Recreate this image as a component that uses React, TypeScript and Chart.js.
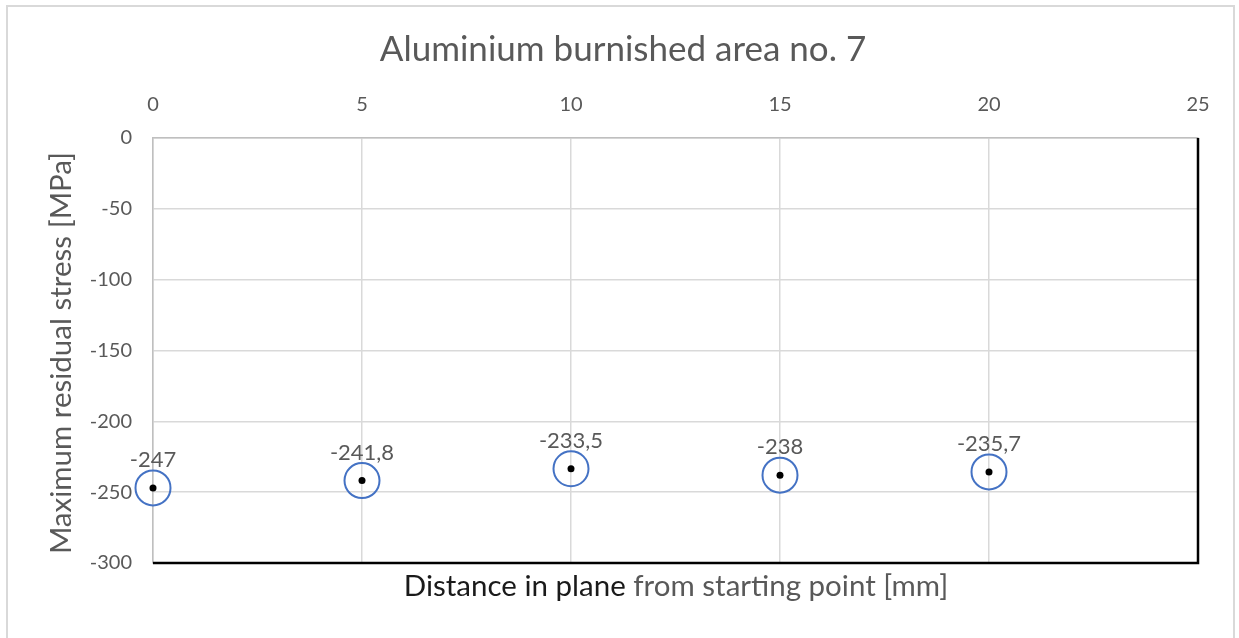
import React, { useEffect, useRef } from "react";
import { Chart, registerables } from "chart.js";

Chart.register(...registerables);

const distances = [0, 5, 10, 15, 20];
const stresses = [-247, -241.8, -233.5, -238, -235.7];
const valueLabels = ["-247", "-241,8", "-233,5", "-238", "-235,7"];
const chartTitle = "Aluminium burnished area no. 7";
const yTitle = "Maximum residual stress [MPa]";
const xTitleDark = "Distance in plane";
const xTitleGray = " from starting point [mm]";

const FONT = "Lato, 'Open Sans', sans-serif";
const GRAY = "#595959";

const decorPlugin = {
  id: "decor",
  afterDraw(chart: any) {
    const { ctx, chartArea } = chart;
    const { left, right, top, bottom } = chartArea;
    ctx.save();
    // black right and bottom borders
    ctx.strokeStyle = "#000";
    ctx.lineWidth = 2.5;
    ctx.beginPath();
    ctx.moveTo(right, top);
    ctx.lineTo(right, bottom);
    ctx.lineTo(left, bottom);
    ctx.stroke();

    // data labels
    const meta = chart.getDatasetMeta(0);
    ctx.fillStyle = GRAY;
    ctx.font = `22px ${FONT}`;
    ctx.textAlign = "center";
    ctx.textBaseline = "middle";
    meta.data.forEach((pt: any, i: number) => {
      ctx.fillText(valueLabels[i], pt.x, pt.y - 28);
    });

    // title
    ctx.font = `35px ${FONT}`;
    ctx.fillStyle = GRAY;
    ctx.fillText(chartTitle, 623, 50);

    // y title
    ctx.save();
    ctx.translate(61, 353);
    ctx.rotate(-Math.PI / 2);
    ctx.font = `29.5px ${FONT}`;
    ctx.fillText(yTitle, 0, 0);
    ctx.restore();

    // x title (two colours)
    ctx.font = `29.5px ${FONT}`;
    const w1 = ctx.measureText(xTitleDark).width;
    const w2 = ctx.measureText(xTitleGray).width;
    const startX = 676 - (w1 + w2) / 2;
    ctx.textAlign = "left";
    ctx.fillStyle = "#1a1a1a";
    ctx.fillText(xTitleDark, startX, 586);
    ctx.fillStyle = GRAY;
    ctx.fillText(xTitleGray, startX + w1, 586);
    ctx.restore();
  },
};

export default function App() {
  const ref = useRef<HTMLCanvasElement>(null);
  useEffect(() => {
    if (!ref.current) return;
    const pts = distances.map((d, i) => ({ x: d, y: stresses[i] }));
    const chart = new Chart(ref.current, {
      type: "scatter",
      data: {
        datasets: [
          {
            data: pts,
            pointRadius: 3.5,
            pointBackgroundColor: "#000",
            pointBorderColor: "#000",
            pointBorderWidth: 0,
            clip: false,
          },
          {
            data: pts,
            pointRadius: 17.5,
            pointBackgroundColor: "rgba(0,0,0,0)",
            pointBorderColor: "#4472C4",
            pointBorderWidth: 2,
            clip: false,
          },
        ],
      },
      options: {
        animation: false,
        responsive: false,
        maintainAspectRatio: false,
        layout: { padding: { left: 0, right: 41, top: 0, bottom: 75 } },
        plugins: {
          legend: { display: false },
          tooltip: { enabled: false },
          title: { display: false },
        },
        scales: {
          x: {
            type: "linear",
            position: "top",
            min: 0,
            max: 25,
            afterFit(scale: any) {
              scale.height = 138;
            },
            ticks: {
              stepSize: 5,
              padding: 21,
              color: GRAY,
              font: { family: FONT, size: 20 },
            },
            grid: { color: "#d9d9d9", lineWidth: 1.5, drawTicks: false },
            border: { color: "#bfbfbf", width: 1.5 },
          },
          y: {
            type: "linear",
            position: "left",
            min: -300,
            max: 0,
            afterFit(scale: any) {
              scale.width = 153;
            },
            ticks: {
              stepSize: 50,
              padding: 21,
              color: GRAY,
              font: { family: FONT, size: 20 },
            },
            grid: { color: "#d9d9d9", lineWidth: 1.5, drawTicks: false },
            border: { color: "#bfbfbf", width: 1.5 },
          },
        },
      },
      plugins: [decorPlugin],
    });
    return () => chart.destroy();
  }, []);

  return (
    <div style={{ position: "fixed", left: 0, top: 0, width: 1239, height: 638, background: "#fff" }}>
      <div
        style={{
          position: "absolute",
          left: 6,
          top: 5,
          width: 1229,
          height: 700,
          border: "2px solid #d9d9d9",
          boxSizing: "border-box",
        }}
      />
      <canvas ref={ref} width={1239} height={638} style={{ position: "absolute", left: 0, top: 0 }} />
    </div>
  );
}
